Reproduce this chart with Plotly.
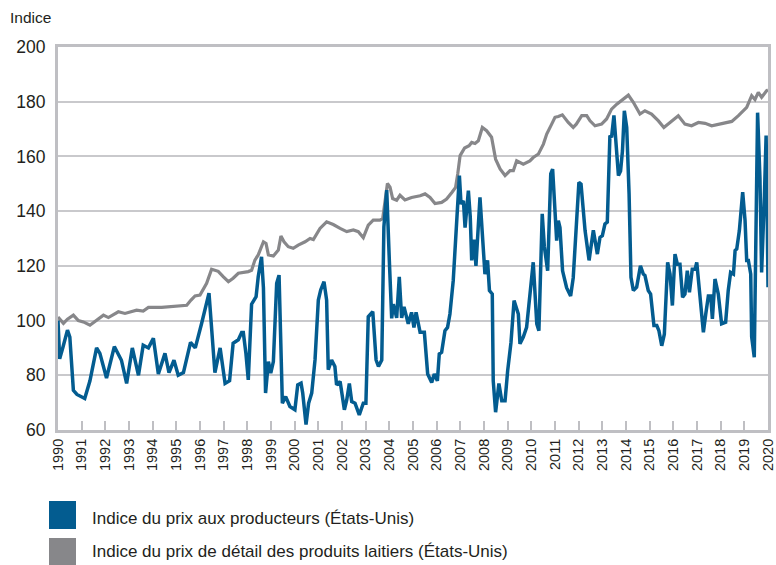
import plotly.graph_objects as go

# ---------------- data ----------------
producer_years = [
    1990.00, 1990.07, 1990.20, 1990.40, 1990.50, 1990.65, 1990.80, 1991.00, 1991.13, 1991.35,
    1991.63, 1991.77, 1992.05, 1992.38, 1992.68, 1992.90, 1993.14, 1993.40, 1993.60, 1993.82,
    1994.03, 1994.24, 1994.52, 1994.69, 1994.90, 1995.08, 1995.30, 1995.60, 1995.80, 1996.07,
    1996.38, 1996.63, 1996.85, 1997.06, 1997.25, 1997.40, 1997.62, 1997.76, 1997.83, 1997.94,
    1998.04, 1998.18, 1998.37, 1998.46, 1998.60, 1998.68, 1998.77, 1998.89, 1998.99, 1999.10,
    1999.24, 1999.34, 1999.38, 1999.48, 1999.62, 1999.80, 2000.01, 2000.13, 2000.27, 2000.34,
    2000.48, 2000.59, 2000.72, 2000.86, 2001.00, 2001.10, 2001.24, 2001.35, 2001.42, 2001.56,
    2001.70, 2001.77, 2001.92, 2002.10, 2002.20, 2002.31, 2002.41, 2002.55, 2002.73, 2002.90,
    2003.01, 2003.11, 2003.30, 2003.44, 2003.54, 2003.68, 2003.77, 2003.89, 2004.00, 2004.10,
    2004.17, 2004.31, 2004.42, 2004.52, 2004.62, 2004.80, 2004.94, 2005.04, 2005.13, 2005.30,
    2005.48, 2005.62, 2005.79, 2005.90, 2006.03, 2006.11, 2006.21, 2006.35, 2006.46, 2006.56,
    2006.70, 2006.80, 2006.89, 2006.96, 2007.03, 2007.13, 2007.20, 2007.34, 2007.42, 2007.48,
    2007.58, 2007.66, 2007.83, 2007.93, 2008.04, 2008.15, 2008.23, 2008.35, 2008.39, 2008.49,
    2008.63, 2008.75, 2008.89, 2009.00, 2009.14, 2009.27, 2009.45, 2009.52, 2009.66, 2009.80,
    2009.94, 2010.08, 2010.23, 2010.32, 2010.46, 2010.55, 2010.69, 2010.82, 2010.90, 2011.07,
    2011.14, 2011.21, 2011.32, 2011.49, 2011.66, 2011.77, 2012.01, 2012.10, 2012.27, 2012.44,
    2012.62, 2012.79, 2012.90, 2013.00, 2013.11, 2013.21, 2013.32, 2013.39, 2013.49, 2013.58,
    2013.68, 2013.77, 2013.85, 2013.93, 2014.03, 2014.13, 2014.21, 2014.31, 2014.45, 2014.61,
    2014.73, 2014.80, 2014.94, 2015.04, 2015.18, 2015.30, 2015.39, 2015.51, 2015.62, 2015.76,
    2015.86, 2015.96, 2016.07, 2016.17, 2016.28, 2016.39, 2016.49, 2016.59, 2016.68, 2016.80,
    2016.92, 2016.99, 2017.10, 2017.27, 2017.37, 2017.48, 2017.58, 2017.65, 2017.76, 2017.90,
    2018.04, 2018.21, 2018.32, 2018.42, 2018.54, 2018.61, 2018.68, 2018.79, 2018.93, 2019.03,
    2019.10, 2019.17, 2019.27, 2019.31, 2019.42, 2019.49, 2019.56, 2019.66, 2019.73, 2019.85,
    2019.92, 2019.97, 2020.00,
]
producer_values = [
    100.0, 86.0, 90.0, 96.5, 94.0, 74.5, 73.0, 72.0, 71.5, 78.0,
    90.0, 88.0, 79.0, 90.5, 85.5, 77.0, 90.0, 80.0, 91.0, 90.0,
    93.5, 80.5, 88.0, 81.0, 85.5, 80.0, 81.0, 92.0, 90.0, 99.0,
    110.0, 81.0, 90.0, 77.0, 78.0, 91.7, 93.0, 95.6, 95.6, 88.0,
    78.3, 106.0, 108.7, 116.0, 123.3, 112.0, 73.5, 85.0, 80.8, 85.0,
    113.6, 116.6, 101.0, 69.8, 72.2, 68.6, 67.4, 76.5, 77.1, 73.5,
    62.0, 69.8, 73.5, 85.6, 107.5, 111.2, 114.2, 107.5, 82.0, 85.6,
    83.2, 76.5, 77.7, 67.4, 71.0, 77.0, 70.4, 69.8, 65.5, 69.8,
    69.8, 101.4, 103.3, 85.6, 83.2, 85.6, 134.3, 147.7, 122.0, 100.8,
    106.0, 101.0, 116.0, 101.0, 105.0, 98.8, 103.0, 97.5, 103.0, 95.7,
    95.7, 80.5, 77.4, 80.5, 78.0, 87.8, 88.4, 96.3, 97.5, 102.4,
    114.6, 130.4, 141.4, 153.0, 142.6, 143.8, 134.0, 147.5, 137.8, 122.0,
    129.6, 120.0, 145.0, 130.4, 117.0, 122.0, 111.0, 109.7, 78.0, 66.5,
    77.0, 70.7, 70.7, 81.7, 92.0, 107.3, 102.4, 91.5, 94.0, 97.5,
    109.7, 121.3, 98.8, 96.3, 139.0, 127.0, 118.2, 153.6, 155.4, 129.2,
    136.5, 134.0, 118.2, 112.0, 109.0, 115.6, 150.5, 149.9, 132.9, 122.0,
    133.0, 124.3, 130.4, 131.0, 135.3, 136.0, 167.6, 167.0, 175.0, 163.3,
    153.0, 154.7, 162.0, 176.7, 170.6, 146.3, 115.8, 111.0, 112.2, 120.0,
    117.0, 116.5, 111.0, 109.7, 98.2, 98.2, 96.3, 90.8, 95.0, 121.3,
    117.0, 105.5, 124.3, 120.6, 120.6, 108.5, 109.7, 118.2, 110.3, 118.8,
    118.8, 121.3, 109.7, 95.7, 102.4, 109.0, 109.0, 100.6, 115.2, 109.7,
    98.8, 99.4, 111.0, 117.6, 117.0, 125.6, 126.2, 132.9, 146.9, 136.6,
    122.0, 122.0, 117.0, 94.0, 86.6, 134.0, 176.0, 152.0, 117.6, 146.0,
    167.6, 136.0, 112.2,
]

retail_years = [
    1990.00, 1990.23, 1990.40, 1990.65, 1990.86, 1991.07, 1991.35, 1991.63, 1991.92, 1992.13,
    1992.55, 1992.83, 1993.32, 1993.60, 1993.82, 1994.38, 1994.94, 1995.44, 1995.62, 1995.79,
    1996.00, 1996.28, 1996.49, 1996.77, 1996.99, 1997.20, 1997.40, 1997.62, 1998.04, 1998.18,
    1998.32, 1998.46, 1998.68, 1998.79, 1998.89, 1999.10, 1999.31, 1999.42, 1999.55, 1999.73,
    1999.94, 2000.15, 2000.44, 2000.65, 2000.79, 2001.07, 2001.35, 2001.63, 2001.92, 2002.20,
    2002.48, 2002.69, 2002.90, 2003.11, 2003.32, 2003.60, 2003.72, 2003.82, 2003.92, 2004.03,
    2004.14, 2004.31, 2004.45, 2004.66, 2004.94, 2005.30, 2005.51, 2005.72, 2005.93, 2006.21,
    2006.42, 2006.65, 2006.80, 2006.89, 2006.99, 2007.18, 2007.37, 2007.48, 2007.62, 2007.76,
    2007.93, 2008.11, 2008.32, 2008.49, 2008.68, 2008.89, 2009.10, 2009.24, 2009.38, 2009.66,
    2009.94, 2010.08, 2010.30, 2010.51, 2010.65, 2010.86, 2011.00, 2011.14, 2011.31, 2011.56,
    2011.77, 2011.90, 2012.13, 2012.34, 2012.48, 2012.69, 2012.97, 2013.18, 2013.39, 2013.61,
    2013.82, 2014.10, 2014.31, 2014.59, 2014.80, 2015.08, 2015.37, 2015.60, 2015.86, 2016.21,
    2016.49, 2016.77, 2017.06, 2017.34, 2017.62, 2018.04, 2018.47, 2018.75, 2019.10, 2019.31,
    2019.45, 2019.59, 2019.73, 2019.94, 2020.00,
]
retail_values = [
    101.3, 99.0, 100.5, 102.0, 100.0, 99.5, 98.3, 100.0, 102.0, 101.1,
    103.2, 102.6, 103.8, 103.5, 104.8, 104.8, 105.3, 105.6, 107.5, 109.0,
    109.3, 113.6, 118.8, 118.0, 116.0, 114.2, 115.5, 117.3, 117.9, 118.4,
    122.1, 124.0, 128.8, 128.2, 124.0, 123.6, 125.8, 130.9, 128.8, 127.0,
    126.4, 127.6, 128.8, 130.0, 129.6, 133.7, 136.1, 135.1, 133.7, 132.5,
    133.1, 132.5, 130.3, 134.9, 136.7, 136.7, 137.3, 144.0, 150.1, 148.8,
    144.6, 144.0, 145.8, 144.1, 145.0, 145.6, 146.3, 145.0, 142.8, 143.2,
    144.4, 146.9, 148.7, 153.6, 160.3, 163.1, 163.9, 165.1, 164.7, 165.7,
    170.6, 169.4, 167.0, 159.0, 155.4, 153.0, 154.8, 154.8, 158.4, 157.2,
    158.4, 159.6, 160.9, 164.5, 168.2, 171.8, 174.3, 174.6, 175.2, 172.4,
    170.6, 171.8, 174.9, 174.9, 173.0, 171.2, 171.8, 173.7, 177.3, 179.1,
    180.4, 182.4, 179.8, 175.5, 176.7, 175.5, 173.0, 170.6, 172.4, 174.9,
    171.8, 171.2, 172.4, 172.1, 171.2, 172.1, 172.8, 174.9, 177.9, 182.2,
    180.8, 183.4, 181.6, 184.0, 184.3,
]

year_ticks = list(range(1990, 2021))
y_ticks = [60, 80, 100, 120, 140, 160, 180, 200]

series_names = [
    "Indice du prix aux producteurs (États-Unis)",
    "Indice du prix de détail des produits laitiers (États-Unis)",
]
y_title = "Indice"

# ---------------- styling ----------------
BLUE = "#035c90"
GREY = "#87878a"
TEXT = "#231f20"
GRID = "#c9c9cc"
FRAME = "#bfbfc3"
FONT = "Liberation Sans Narrow, Liberation Sans, Arial, sans-serif"

W, H = 776, 565
L, R, T, B = 58, 8, 47, 135
PW, PH = W - L - R, H - T - B


def px(x):
    return (x - L) / PW


def py(y):
    return (H - B - y) / PH


fig = go.Figure()
fig.add_trace(go.Scatter(
    x=retail_years, y=retail_values, mode="lines", name=series_names[1],
    line=dict(color=GREY, width=3.2), showlegend=False, hoverinfo="x+y",
))
fig.add_trace(go.Scatter(
    x=producer_years, y=producer_values, mode="lines", name=series_names[0],
    line=dict(color=BLUE, width=3.5), showlegend=False, hoverinfo="x+y",
))

# legend drawn as squares + text below the plot
legend_items = [(series_names[0], BLUE, 501, 529, 518), (series_names[1], GREY, 538, 565, 551)]
shapes = []
annotations = []
for name, col, y0, y1, yc in legend_items:
    shapes.append(dict(type="rect", xref="paper", yref="paper",
                       x0=px(49), x1=px(76), y0=py(y1), y1=py(y0),
                       fillcolor=col, line=dict(width=0)))
    annotations.append(dict(text=name, xref="paper", yref="paper", x=px(90), y=py(yc),
                            xanchor="left", yanchor="middle", showarrow=False,
                            font=dict(family=FONT, size=17, color=TEXT)))

annotations.append(dict(text=y_title, xref="paper", yref="paper", x=px(8), y=py(18),
                        xanchor="left", yanchor="middle", showarrow=False,
                        font=dict(family=FONT, size=15.5, color=TEXT)))

fig.update_layout(
    width=W, height=H,
    margin=dict(l=L, r=R, t=T, b=B, pad=0),
    paper_bgcolor="white", plot_bgcolor="white",
    showlegend=False,
    shapes=shapes, annotations=annotations,
    font=dict(family=FONT, color=TEXT),
    xaxis=dict(
        range=[1990, 2020], tickmode="array", tickvals=year_ticks,
        ticktext=[str(y) for y in year_ticks], tickangle=-90,
        ticks="inside", ticklen=9, tickwidth=1.5, tickcolor=FRAME,
        showgrid=False, zeroline=False, automargin=False,
        showline=True, linecolor=FRAME, linewidth=3, mirror=True,
        tickfont=dict(family=FONT, size=14.5, color=TEXT),
    ),
    yaxis=dict(
        range=[60, 200], tickmode="array", tickvals=y_ticks,
        showgrid=True, gridcolor=GRID, gridwidth=1.5, zeroline=False, automargin=False,
        showline=True, linecolor=FRAME, linewidth=3, mirror=True,
        ticks="", ticklabelstandoff=6,
        tickfont=dict(family=FONT, size=17.5, color=TEXT),
    ),
)

fig.write_html(
    "out.html",
    config={"displayModeBar": False},
    post_script="document.body.style.margin='0';document.body.style.padding='0';",
)
